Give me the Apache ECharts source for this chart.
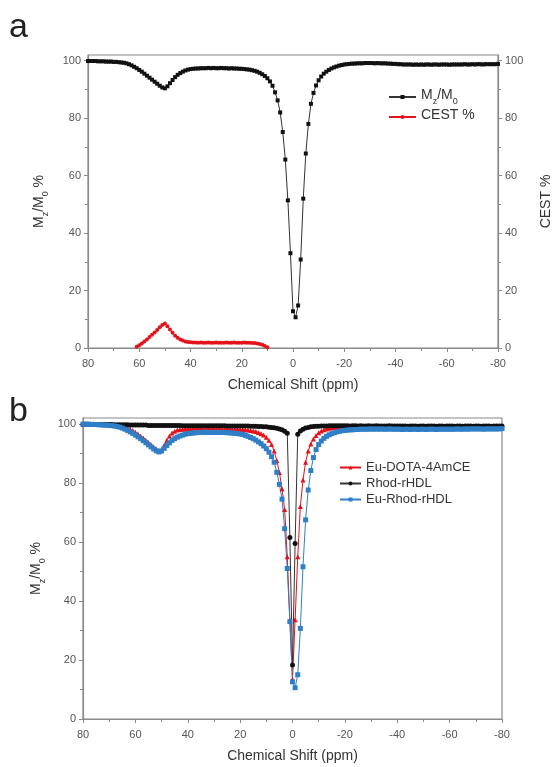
<!DOCTYPE html>
<html><head><meta charset="utf-8">
<script src="https://cdn.jsdelivr.net/npm/echarts@6/dist/echarts.min.js"></script>
<style>html,body{margin:0;padding:0;background:#fff}#c{width:552px;height:767px}</style>
</head><body><div id="c"></div>
<script>
// Chemical shift sampling (ppm), 80 → -80
const ppm = [80,79,78,77,76,75,74,73,72,71,
70,69,68,67,66,65,64,63,62,61,
60,59,58,57,56,55,54,53,52,51,
50,49,48,47,46,45,44,43,42,41,
40,39,38,37,36,35,34,33,32,31,
30,29,28,27,26,25,24,23,22,21,
20,19,18,17,16,15,14,13,12,11,
10,9,8,7,6,5,4,3,2,1,
0,-1,-2,-3,-4,-5,-6,-7,-8,-9,
-10,-11,-12,-13,-14,-15,-16,-17,-18,-19,
-20,-21,-22,-23,-24,-25,-26,-27,-28,-29,
-30,-31,-32,-33,-34,-35,-36,-37,-38,-39,
-40,-41,-42,-43,-44,-45,-46,-47,-48,-49,
-50,-51,-52,-53,-54,-55,-56,-57,-58,-59,
-60,-61,-62,-63,-64,-65,-66,-67,-68,-69,
-70,-71,-72,-73,-74,-75,-76,-77,-78,-79,
-80];

// Panel a: Mz/M0 %
const mzA = [99.9,99.9,99.9,99.9,99.8,99.8,99.8,99.7,99.7,99.7,
99.6,99.6,99.5,99.4,99.3,99.1,98.8,98.4,97.9,97.4,
96.8,96.2,95.5,94.8,94.1,93.4,92.7,92.0,91.3,90.7,
90.4,91.1,92.2,93.3,94.3,95.1,95.7,96.2,96.6,96.9,
97.1,97.2,97.3,97.3,97.4,97.4,97.4,97.5,97.4,97.5,
97.4,97.4,97.5,97.4,97.4,97.3,97.4,97.3,97.3,97.2,
97.2,97.1,97.0,96.9,96.7,96.5,96.2,95.8,95.3,94.7,
93.9,92.8,91.3,89.0,86.2,82.0,75.2,65.6,51.4,33.0,
12.8,10.7,14.8,30.8,52.0,67.7,78.0,85.0,88.8,91.4,
93.2,94.5,95.5,96.2,96.8,97.3,97.7,98.0,98.3,98.5,
98.7,98.8,98.9,99.0,99.0,99.1,99.1,99.1,99.2,99.2,
99.2,99.2,99.1,99.2,99.1,99.1,99.1,99.0,99.0,98.9,
98.9,98.8,98.8,98.7,98.7,98.7,98.7,98.6,98.7,98.6,
98.7,98.6,98.7,98.7,98.6,98.7,98.7,98.6,98.7,98.7,
98.7,98.6,98.7,98.7,98.7,98.7,98.7,98.8,98.7,98.7,
98.8,98.7,98.8,98.8,98.7,98.8,98.8,98.8,98.8,98.8,
98.9];

// Panel a: CEST %
const cestPpm = [61,60,59,58,57,56,55,54,53,52,
51,50,49,48,47,46,45,44,43,42,
41,40,39,38,37,36,35,34,33,32,
31,30,29,28,27,26,25,24,23,22,
21,20,19,18,17,16,15,14,13,12,
11,10];
const cestA = [0.4,1.0,1.6,2.3,3.0,3.8,4.6,5.4,6.3,7.2,
8.0,8.5,7.6,6.4,5.3,4.3,3.6,3.0,2.6,2.3,
2.1,2.0,1.9,1.9,1.8,1.9,1.8,1.8,1.9,1.8,
1.8,1.9,1.8,1.8,1.8,1.9,1.8,1.8,1.9,1.8,
1.8,1.8,1.9,1.8,1.8,1.7,1.7,1.6,1.4,1.1,
0.7,0.3];

// Panel b
const euDota = [99.9,99.9,99.9,99.9,99.8,99.8,99.8,99.8,99.7,99.7,
99.7,99.6,99.6,99.5,99.4,99.2,99.0,98.7,98.3,97.8,
97.2,96.6,95.9,95.2,94.5,93.7,92.9,92.1,91.4,90.9,
91.3,92.8,94.5,95.9,96.9,97.5,97.9,98.1,98.2,98.3,
98.3,98.3,98.4,98.3,98.4,98.4,98.3,98.4,98.4,98.3,
98.4,98.3,98.4,98.3,98.3,98.3,98.3,98.2,98.2,98.2,
98.1,98.1,98.0,97.9,97.8,97.6,97.4,97.1,96.7,96.2,
95.5,94.5,93.0,90.8,87.6,83.5,78.0,71.0,55.0,33.5,
13.5,33.6,55.0,72.0,81.0,87.0,90.8,93.2,94.9,96.1,
97.0,97.6,98.0,98.3,98.5,98.7,98.8,98.9,99.0,99.0,
99.0,99.1,99.0,99.1,99.1,99.0,99.1,99.1,99.0,99.1,
99.1,99.0,99.1,99.1,99.1,99.0,99.1,99.1,99.0,99.1,
99.1,99.1,99.0,99.1,99.1,99.1,99.0,99.1,99.1,99.1,
99.0,99.1,99.1,99.1,99.0,99.1,99.1,99.1,99.1,99.0,
99.1,99.1,99.1,99.0,99.1,99.1,99.1,99.1,99.0,99.1,
99.1,99.1,99.0,99.1,99.1,99.1,99.1,99.1,99.0,99.1,
99.1];
const rhod = [99.9,99.9,99.9,99.9,99.9,99.8,99.8,99.8,99.8,99.8,
99.8,99.8,99.7,99.7,99.7,99.7,99.7,99.7,99.6,99.6,
99.6,99.6,99.6,99.6,99.6,99.5,99.5,99.5,99.5,99.5,
99.5,99.5,99.5,99.5,99.5,99.5,99.5,99.5,99.4,99.4,
99.4,99.4,99.4,99.4,99.4,99.4,99.4,99.4,99.4,99.4,
99.4,99.4,99.4,99.4,99.4,99.3,99.3,99.3,99.3,99.3,
99.3,99.3,99.3,99.3,99.2,99.2,99.2,99.1,99.1,99.0,
99.0,98.9,98.8,98.7,98.5,98.3,98.0,97.5,96.8,61.5,
18.3,59.5,96.5,97.6,98.2,98.6,98.8,99.0,99.1,99.2,
99.2,99.3,99.3,99.3,99.4,99.4,99.4,99.4,99.4,99.4,
99.4,99.4,99.3,99.4,99.4,99.3,99.4,99.3,99.3,99.4,
99.3,99.3,99.4,99.3,99.3,99.3,99.3,99.4,99.3,99.3,
99.3,99.3,99.3,99.3,99.2,99.3,99.3,99.3,99.2,99.3,
99.3,99.2,99.3,99.3,99.3,99.2,99.3,99.3,99.2,99.3,
99.3,99.3,99.2,99.3,99.3,99.2,99.3,99.3,99.3,99.2,
99.3,99.3,99.2,99.3,99.3,99.3,99.2,99.3,99.3,99.3,
99.3];
const euRhod = [99.9,99.9,99.9,99.8,99.8,99.8,99.7,99.7,99.6,99.6,
99.5,99.4,99.3,99.1,98.9,98.6,98.2,97.8,97.3,96.8,
96.2,95.6,95.0,94.3,93.6,92.9,92.2,91.5,90.9,90.5,
90.8,91.7,92.7,93.6,94.4,95.0,95.5,95.9,96.2,96.5,
96.7,96.8,96.9,97.0,97.1,97.1,97.1,97.2,97.1,97.1,
97.1,97.1,97.1,97.1,97.1,97.0,97.0,96.9,96.8,96.7,
96.6,96.4,96.1,95.8,95.4,95.0,94.5,93.9,93.3,92.5,
91.6,90.4,88.9,87.0,83.6,79.5,74.5,64.5,51.0,33.0,
12.6,10.6,15.0,30.7,51.6,67.5,77.6,84.2,88.6,91.3,
93.0,94.2,95.1,95.8,96.3,96.7,97.0,97.3,97.5,97.7,
97.8,97.9,98.0,98.0,98.1,98.1,98.2,98.2,98.2,98.2,
98.3,98.2,98.3,98.2,98.3,98.2,98.2,98.3,98.2,98.2,
98.2,98.2,98.1,98.2,98.2,98.1,98.2,98.2,98.1,98.2,
98.2,98.1,98.2,98.2,98.2,98.1,98.2,98.2,98.2,98.2,
98.2,98.2,98.2,98.3,98.2,98.2,98.3,98.2,98.3,98.3,
98.3,98.3,98.3,98.2,98.3,98.3,98.3,98.3,98.3,98.3,
98.4];

const yMajor = [0,20,40,60,80,100];
const yMinor = [10,30,50,70,90];

const FONT = '"Liberation Sans", Arial, sans-serif';
const AX = '#8a8a8a';
const pair = (xs, ys) => xs.map((x, i) => [x, ys[i]]);

function xAxisCfg(gi) {
  return {
    gridIndex: gi, type: 'value', min: -80, max: 80, interval: 20, inverse: true,
    name: 'Chemical Shift (ppm)', nameLocation: 'middle', nameGap: 30,
    nameTextStyle: { fontFamily: FONT, fontSize: 14, color: '#333' },
    axisLine: { onZero: false, lineStyle: { color: AX, width: 1.2 } },
    axisTick: { show: true, inside: false, length: 4, lineStyle: { color: AX } },
    minorTick: { show: true, splitNumber: 2, length: 3, lineStyle: { color: AX } },
    axisLabel: { fontFamily: FONT, fontSize: 11, color: '#555', margin: 10 },
    splitLine: { show: false }, minorSplitLine: { show: false }
  };
}
function yMajorCfg(gi, pos, name, nameGap, extra) {
  return Object.assign({
    gridIndex: gi, type: 'value', min: 0, max: 102, position: pos,
    name: name, nameLocation: 'middle', nameGap: nameGap, nameRotate: 90,
    nameTextStyle: { fontFamily: FONT, fontSize: 14, color: '#333' },
    axisLine: { show: true, onZero: false, lineStyle: { color: AX, width: 1.2 } },
    axisTick: { show: true, inside: false, length: 4, customValues: yMajor, lineStyle: { color: AX } },
    axisLabel: { fontFamily: FONT, fontSize: 11, color: '#555', margin: 7, customValues: yMajor },
    splitLine: { show: false }
  }, extra || {});
}
function yMinorCfg(gi, pos) {
  return {
    gridIndex: gi, type: 'value', min: 0, max: 102, position: pos,
    axisLine: { show: false, onZero: false },
    axisTick: { show: true, inside: false, length: 3, customValues: yMinor, lineStyle: { color: AX } },
    axisLabel: { show: false }, splitLine: { show: false }
  };
}

const mzRich = {
  n: { fontFamily: FONT, fontSize: 14, color: '#333', lineHeight: 18, verticalAlign: 'top' },
  s: { fontFamily: FONT, fontSize: 9, color: '#333', lineHeight: 9, verticalAlign: 'bottom' }
};
const mzLabel = '{n|M}{s|z}{n|/M}{s|0}{n| %}';

const chart = echarts.init(document.getElementById('c'), null, { renderer: 'canvas' });
chart.setOption({
  backgroundColor: '#fff',
  animation: false,
  graphic: [
    { type: 'text', left: 9, top: 11, style: { text: 'a', font: '34px ' + FONT, fill: '#222' } },
    { type: 'text', left: 9, top: 395, style: { text: 'b', font: '34px ' + FONT, fill: '#222' } }
  ],
  grid: [
    { left: 88, right: 54, top: 55, height: 293, show: true, borderColor: AX, borderWidth: 1.2, backgroundColor: 'transparent', containLabel: false, outerBoundsMode: 'none' },
    { left: 83, right: 50, top: 418, height: 301, show: true, borderColor: AX, borderWidth: 1.2, backgroundColor: 'transparent', containLabel: false, outerBoundsMode: 'none' }
  ],
  xAxis: [xAxisCfg(0), xAxisCfg(1)],
  yAxis: [
    yMajorCfg(0, 'left', mzLabel, 38, { nameTextStyle: { rich: mzRich } }),
    yMajorCfg(0, 'right', 'CEST %', 41),
    yMinorCfg(0, 'left'),
    yMinorCfg(0, 'right'),
    yMajorCfg(1, 'left', mzLabel, 36, { nameTextStyle: { rich: mzRich } }),
    yMinorCfg(1, 'left')
  ],
  legend: [
    {
      data: ['Mz/M0', 'CEST %'], left: 383, top: 83, orient: 'vertical',
      itemWidth: 27, itemHeight: 5, itemGap: 2,
      formatter: n => n === 'Mz/M0' ? '{n|M}{s|z}{n|/M}{s|0}' : '{n|' + n + '}',
      textStyle: { rich: { n: { fontFamily: FONT, fontSize: 14, color: '#333', lineHeight: 18, verticalAlign: 'top' }, s: { fontFamily: FONT, fontSize: 9, color: '#333', lineHeight: 9, verticalAlign: 'bottom' } } }
    },
    {
      data: ['Eu-DOTA-4AmCE', 'Rhod-rHDL', 'Eu-Rhod-rHDL'], left: 334, top: 456, orient: 'vertical',
      itemWidth: 21, itemHeight: 5, itemGap: 3,
      textStyle: { fontFamily: FONT, fontSize: 13, color: '#333' }
    }
  ],
  series: [
    { name: 'Mz/M0', type: 'line', xAxisIndex: 0, yAxisIndex: 0, data: pair(ppm, mzA),
      symbol: 'rect', symbolSize: 4, itemStyle: { color: '#111' }, lineStyle: { color: '#333', width: 1 } },
    { name: 'CEST %', type: 'line', xAxisIndex: 0, yAxisIndex: 1, data: pair(cestPpm, cestA),
      symbol: 'circle', symbolSize: 4, itemStyle: { color: '#e3121b' }, lineStyle: { color: '#e3121b', width: 1 } },
    { name: 'Eu-DOTA-4AmCE', type: 'line', xAxisIndex: 1, yAxisIndex: 4, data: pair(ppm, euDota),
      symbol: 'triangle', symbolSize: 5, itemStyle: { color: '#e3121b' }, lineStyle: { color: '#e3121b', width: 1 } },
    { name: 'Rhod-rHDL', type: 'line', xAxisIndex: 1, yAxisIndex: 4, data: pair(ppm, rhod),
      symbol: 'circle', symbolSize: 5, itemStyle: { color: '#111' }, lineStyle: { color: '#333', width: 1 } },
    { name: 'Eu-Rhod-rHDL', type: 'line', xAxisIndex: 1, yAxisIndex: 4, data: pair(ppm, euRhod),
      symbol: 'rect', symbolSize: 5, itemStyle: { color: '#2f7fc8' }, lineStyle: { color: '#2f7fc8', width: 1 } }
  ]
});
</script>
</body></html>
